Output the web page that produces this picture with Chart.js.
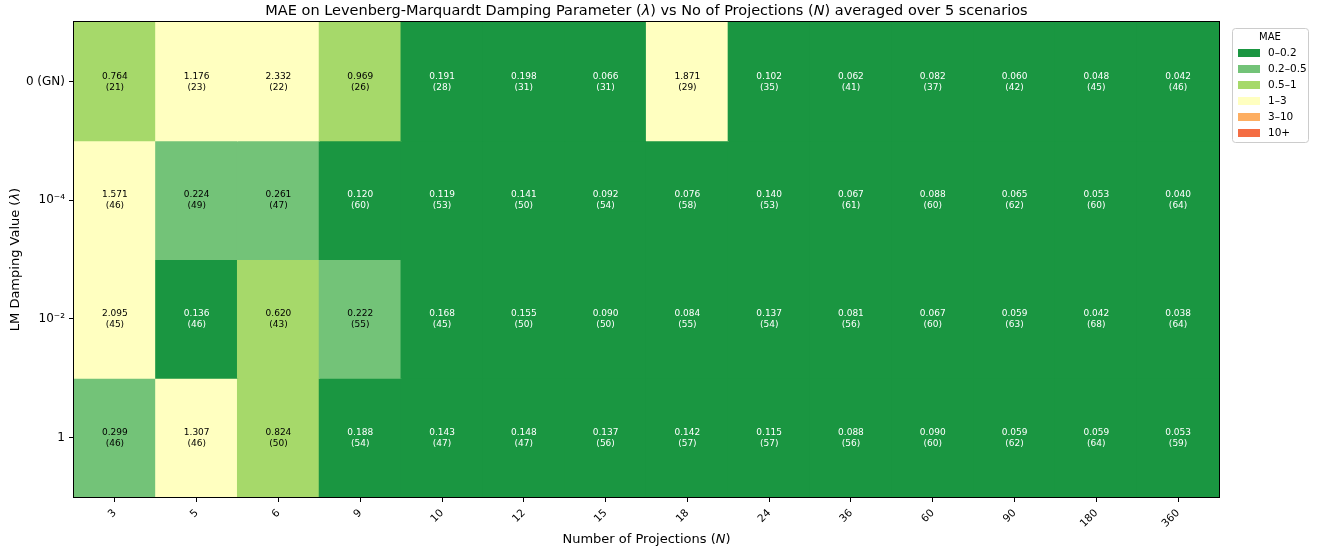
<!DOCTYPE html>
<html lang="en">
<head>
  <meta charset="UTF-8" />
  <title>MAE heatmap</title>
  <script src="https://cdn.jsdelivr.net/npm/chart.js"></script>
  <style>
    body {
      margin: 0;
      padding: 0;
      background: #ffffff;
    }
    #wrap {
      width: 1317px;
      height: 553px;
      position: relative;
    }
  </style>
</head>
<body>
<div id="wrap">
  <canvas id="heat"></canvas>
</div>

<script>
  const projections = ['3', '5', '6', '9', '10', '12', '15', '18', '24', '36', '60', '90', '180', '360'];
  const dampingLabels = ['0 (GN)', '10\u207B\u2074', '10\u207B\u00B2', '1'];

  // MAE per damping row, one value per projection column
  const maeGN   = [0.764, 1.176, 2.332, 0.969, 0.191, 0.198, 0.066, 1.871, 0.102, 0.062, 0.082, 0.060, 0.048, 0.042];
  const mae1e4  = [1.571, 0.224, 0.261, 0.120, 0.119, 0.141, 0.092, 0.076, 0.140, 0.067, 0.088, 0.065, 0.053, 0.040];
  const mae1e2  = [2.095, 0.136, 0.620, 0.222, 0.168, 0.155, 0.090, 0.084, 0.137, 0.081, 0.067, 0.059, 0.042, 0.038];
  const mae1    = [0.299, 1.307, 0.824, 0.188, 0.143, 0.148, 0.137, 0.142, 0.115, 0.088, 0.090, 0.059, 0.059, 0.053];

  // counts shown in brackets
  const cntGN   = [21, 23, 22, 26, 28, 31, 31, 29, 35, 41, 37, 42, 45, 46];
  const cnt1e4  = [46, 49, 47, 60, 53, 50, 54, 58, 53, 61, 60, 62, 60, 64];
  const cnt1e2  = [45, 46, 43, 55, 45, 50, 50, 55, 54, 56, 60, 63, 68, 64];
  const cnt1    = [46, 46, 50, 54, 47, 47, 56, 57, 57, 56, 60, 62, 64, 59];

  const maeRows = [maeGN, mae1e4, mae1e2, mae1];
  const cntRows = [cntGN, cnt1e4, cnt1e2, cnt1];

  const binLabels = ['0\u20130.2', '0.2\u20130.5', '0.5\u20131', '1\u20133', '3\u201310', '10+'];
  const binEdges  = [0.2, 0.5, 1, 3, 10, Infinity];
  const binColors = ['#1a9641', '#73c378', '#a6d96a', '#ffffc0', '#fdae61', '#f46d43'];

  // titles as [text, italic] pieces
  const titleParts  = [['MAE on Levenberg-Marquardt Damping Parameter (', false], ['\u03BB', true],
                       [') vs No of Projections (', false], ['N', true], [') averaged over 5 scenarios', false]];
  const xTitleParts = [['Number of Projections (', false], ['N', true], [')', false]];
  const yTitleParts = [['LM Damping Value (', false], ['\u03BB', true], [')', false]];

  function binOf(v) {
    for (let i = 0; i < binEdges.length; i++) {
      if (v < binEdges[i]) return i;
    }
    return binEdges.length - 1;
  }

  const FONT = "'DejaVu Sans', sans-serif";

  function drawMixed(ctx, parts, cx, cy, size, angle) {
    ctx.save();
    ctx.translate(cx, cy);
    ctx.rotate(angle || 0);
    ctx.textBaseline = 'middle';
    ctx.textAlign = 'left';
    ctx.fillStyle = '#000';
    const fontOf = it => (it ? 'italic ' : '') + size + 'px ' + FONT;
    let total = 0;
    parts.forEach(p => { ctx.font = fontOf(p[1]); total += ctx.measureText(p[0]).width; });
    let x = -total / 2;
    parts.forEach(p => {
      ctx.font = fontOf(p[1]);
      ctx.fillText(p[0], x, 0);
      x += ctx.measureText(p[0]).width;
    });
    ctx.restore();
  }

  // each row is one dataset of floating bars spanning [r, r+1]
  const datasets = maeRows.map((row, r) => ({
    label: dampingLabels[r],
    data: row.map(() => [r, r + 1]),
    backgroundColor: row.map(v => binColors[binOf(v)]),
    borderWidth: 0,
    inflateAmount: 0.6,
    barPercentage: 1,
    categoryPercentage: 1,
    grouped: false
  }));

  // cell text
  const cellText = {
    id: 'cellText',
    afterDatasetsDraw(chart) {
      const ctx = chart.ctx;
      ctx.save();
      ctx.font = '9px ' + FONT;
      ctx.textAlign = 'center';
      ctx.textBaseline = 'middle';
      chart.data.datasets.forEach((ds, r) => {
        const meta = chart.getDatasetMeta(r);
        meta.data.forEach((bar, c) => {
          const v = maeRows[r][c];
          const cy = (bar.y + bar.base) / 2;
          ctx.fillStyle = binOf(v) === 0 ? '#ffffff' : '#000000';
          ctx.fillText(v.toFixed(3), bar.x, cy - 5);
          ctx.fillText('(' + cntRows[r][c] + ')', bar.x, cy + 6);
        });
      });
      ctx.restore();
    }
  };

  // frame, titles, legend box
  const frame = {
    id: 'frame',
    afterDraw(chart) {
      const ctx = chart.ctx;
      const a = chart.chartArea;
      ctx.save();
      ctx.strokeStyle = '#000';
      ctx.lineWidth = 1;
      ctx.strokeRect(Math.round(a.left) - 0.5, Math.round(a.top) - 0.5,
        Math.round(a.right - a.left) + 1, Math.round(a.bottom - a.top) + 1);

      drawMixed(ctx, titleParts, (a.left + a.right) / 2, 11, 14.5, 0);
      drawMixed(ctx, xTitleParts, (a.left + a.right) / 2, 540, 13, 0);
      drawMixed(ctx, yTitleParts, 16, (a.top + a.bottom) / 2, 13, -Math.PI / 2);

      // legend
      const lx = 1232, ly = 28, lw = 76, lh = 114;
      ctx.fillStyle = '#ffffff';
      ctx.strokeStyle = '#cccccc';
      ctx.beginPath();
      ctx.roundRect(lx + 0.5, ly + 0.5, lw, lh, 3);
      ctx.fill();
      ctx.stroke();
      ctx.fillStyle = '#000';
      ctx.font = '10px ' + FONT;
      ctx.textAlign = 'center';
      ctx.textBaseline = 'middle';
      ctx.fillText('MAE', lx + lw / 2, ly + 9);
      ctx.textAlign = 'left';
      ctx.font = '10.5px ' + FONT;
      binLabels.forEach((lab, i) => {
        const yy = ly + 25 + i * 16;
        ctx.fillStyle = binColors[i];
        ctx.fillRect(lx + 6, yy - 4, 22, 8);
        ctx.fillStyle = '#000';
        ctx.fillText(lab, lx + 36, yy);
      });
      ctx.restore();
    }
  };

  new Chart(document.getElementById('heat'), {
    type: 'bar',
    data: { labels: projections, datasets: datasets },
    plugins: [cellText, frame],
    options: {
      responsive: true,
      maintainAspectRatio: false,
      animation: false,
      layout: { padding: { left: 0, right: 98, top: 22, bottom: 0 } },
      plugins: {
        legend: { display: false },
        tooltip: { enabled: false },
        title: { display: false }
      },
      scales: {
        x: {
          type: 'category',
          offset: true,
          grid: { display: true, drawOnChartArea: false, offset: false, color: '#000', tickLength: 5 },
          border: { display: false },
          ticks: {
            color: '#000',
            font: { family: FONT, size: 10.5 },
            minRotation: 45,
            maxRotation: 45,
            padding: 5
          },
          afterFit(axis) { axis.height = 56; }
        },
        y: {
          type: 'linear',
          min: 0,
          max: 4,
          reverse: true,
          grid: { display: true, drawOnChartArea: false, color: '#000', tickLength: 5 },
          border: { display: false },
          afterBuildTicks(axis) {
            axis.ticks = dampingLabels.map((_, i) => ({ value: i + 0.5 }));
          },
          ticks: {
            color: '#000',
            font: { family: FONT, size: 12 },
            padding: 4,
            callback: v => dampingLabels[Math.floor(v)]
          },
          afterFit(axis) { axis.width = 74; }
        }
      }
    }
  });
</script>
</body>
</html>
